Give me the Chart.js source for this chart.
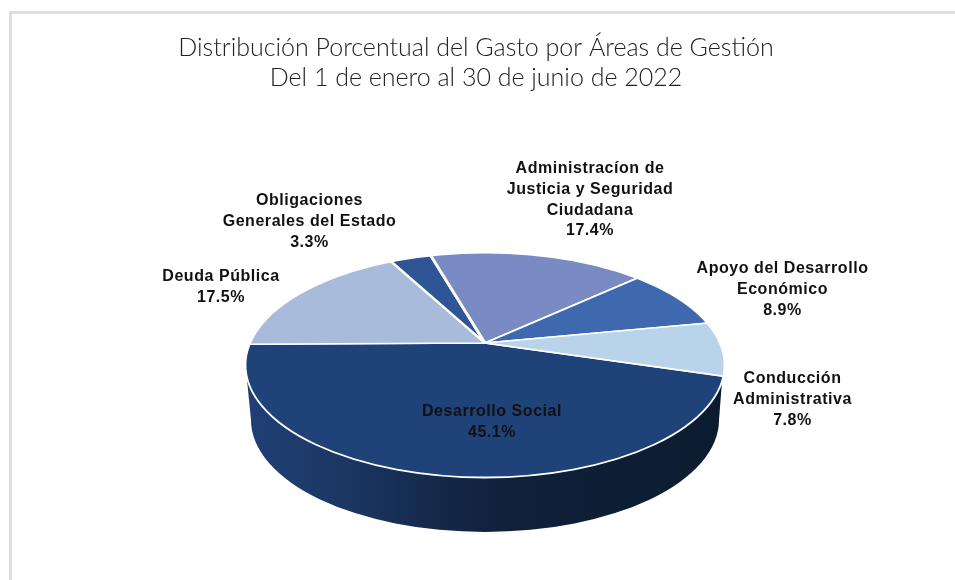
<!DOCTYPE html>
<html>
<head>
<meta charset="utf-8">
<script src="https://cdn.jsdelivr.net/npm/chart.js@4"></script>
<style>
    html, body { margin: 0; padding: 0; background: #fff; overflow: hidden; }
    #frame { position: absolute; left: 9px; top: 11px; width: 946px; height: 569px; border-top: 3px solid #dedede; border-left: 3px solid #dedede; box-sizing: border-box; }
    #chart { position: absolute; left: 0; top: 0; }
</style>
</head>
<body>
<div id="frame"></div>
<canvas id="chart" width="955" height="580"></canvas>
<script>
const titleLines = ["Distribución Porcentual del Gasto por Áreas de Gestión", "Del 1 de enero al 30 de junio de 2022"];
const categories = ["Desarrollo Social", "Deuda Pública", "Obligaciones Generales del Estado", "Administracíon de Justicia y Seguridad Ciudadana", "Apoyo del Desarrollo Económico", "Conducción Administrativa"];
const categoryLines = [["Desarrollo Social"], ["Deuda Pública"], ["Obligaciones", "Generales del Estado"], ["Administracíon de", "Justicia y Seguridad", "Ciudadana"], ["Apoyo del Desarrollo", "Económico"], ["Conducción", "Administrativa"]];
const shares = [45.1, 17.5, 3.3, 17.4, 8.9, 7.8];
const sliceColors = ["#1f4279", "#a9bbda", "#2f5597", "#7a8bc3", "#3e69ae", "#b9d3ea"];

// where the top-most baseline of each label sits
const labelX = [492, 221, 309.5, 590, 782.5, 792.5];
const labelY = [416, 281, 205, 173, 273, 383];
const labelLineHeight = 20.8;

// the pie is a tilted disc: the apex is not at the middle of the ellipse
const apex = { x: 485, y: 343 };
const rim = { x: 485, y: 365, rx: 239.5, ry: 112.5 };
const base = { x: 485, y: 420, rx: 234, ry: 112 };
const tilt = 0.455;

function drawWall(ctx) {
    const grad = ctx.createLinearGradient(base.x - base.rx, 0, base.x + base.rx, 0);
    grad.addColorStop(0, "#1f3f75");
    grad.addColorStop(0.2, "#1b3763");
    grad.addColorStop(0.4, "#15284a");
    grad.addColorStop(0.55, "#0f2039");
    grad.addColorStop(1, "#0c1c30");
    ctx.save();
    ctx.beginPath();
    ctx.moveTo(rim.x - rim.rx + 1, rim.y + 10);
    ctx.lineTo(base.x - base.rx, base.y);
    ctx.ellipse(base.x, base.y, base.rx, base.ry, 0, Math.PI, 0, true);
    ctx.lineTo(rim.x + rim.rx - 2, rim.y + 10);
    ctx.closePath();
    ctx.fillStyle = grad;
    ctx.fill();
    ctx.restore();
}

const tiltedPie = {
    id: "tiltedPie",
    beforeDatasetsDraw(chart) {
        const ctx = chart.ctx;
        const meta = chart.getDatasetMeta(0);
        const first = meta.data[0];

        drawWall(ctx);

        ctx.save();
        ctx.beginPath();
        ctx.ellipse(rim.x, rim.y, rim.rx, rim.ry, 0, 0, Math.PI * 2);
        ctx.clip();
        ctx.translate(apex.x, apex.y);
        ctx.scale(1, tilt);
        ctx.translate(-first.x, -first.y);
        meta.controller.draw();
        ctx.restore();

        ctx.beginPath();
        ctx.ellipse(rim.x, rim.y, rim.rx, rim.ry, 0, 0, Math.PI * 2);
        ctx.strokeStyle = "#fff";
        ctx.lineWidth = 1.8;
        ctx.stroke();
        return false;
    },
    afterDraw(chart) {
        const ctx = chart.ctx;
        ctx.save();
        ctx.font = "bold 16px 'Liberation Sans'";
        ctx.letterSpacing = "0.55px";
        ctx.fillStyle = "#111";
        ctx.textAlign = "center";
        ctx.textBaseline = "alphabetic";
        categoryLines.forEach(function(lines, i) {
            const rows = lines.concat(shares[i].toFixed(1) + "%");
            rows.forEach(function(row, r) {
                ctx.fillText(row, labelX[i], labelY[i] + r * labelLineHeight);
            });
        });
        ctx.restore();
    }
};

new Chart(document.getElementById("chart").getContext("2d"), {
    type: "pie",
    data: {
        labels: categories,
        datasets: [{
            data: shares,
            backgroundColor: sliceColors,
            borderColor: "#fff",
            borderWidth: 3.2
        }]
    },
    options: {
        responsive: false,
        animation: false,
        rotation: 107,
        radius: 800,
        layout: { padding: { right: 3 } },
        plugins: {
            legend: { display: false },
            tooltip: { enabled: false },
            title: {
                display: true,
                text: titleLines,
                color: "#222",
                font: { family: "Lato", size: 25, weight: "300", lineHeight: 1.2 },
                padding: { top: 33, bottom: 10 }
            }
        }
    },
    plugins: [tiltedPie]
});
</script>
</body>
</html>
